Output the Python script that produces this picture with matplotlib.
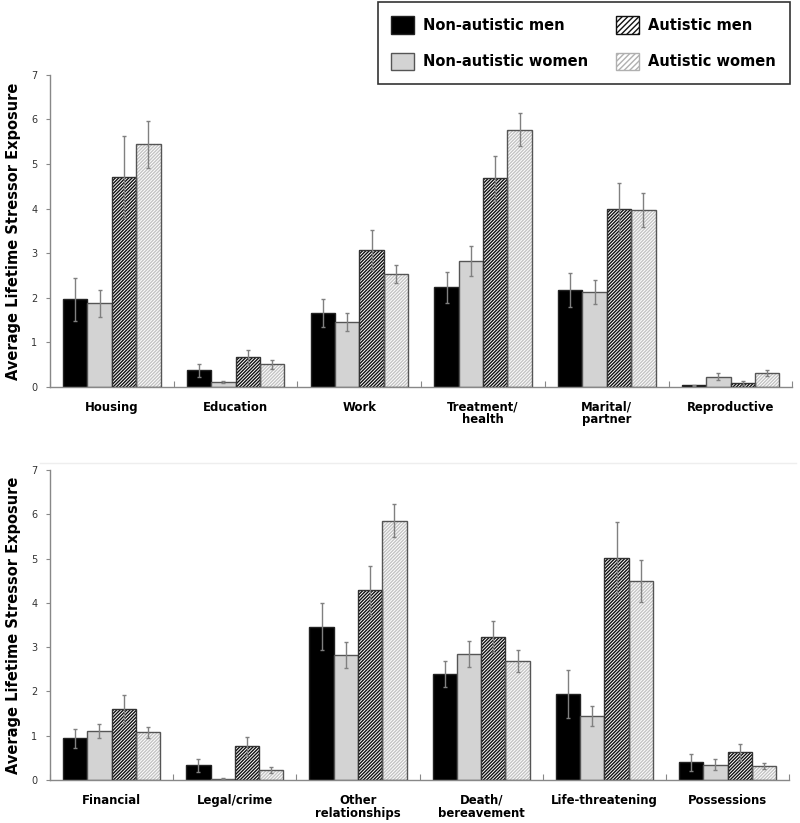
import matplotlib
matplotlib.use("Agg")
import matplotlib.pyplot as plt
import numpy as np
from matplotlib.patches import Patch
from matplotlib.lines import Line2D

plt.rcParams['font.family'] = ['DejaVu Sans']
plt.rcParams['hatch.linewidth'] = 1.0

groups = ["Non-autistic men", "Non-autistic women", "Autistic men", "Autistic women"]

cats_top = ["Housing", "Education", "Work", "Treatment/\nhealth", "Marital/\npartner", "Reproductive"]
nam_top = [1.96, 0.37, 1.66, 2.23, 2.17, 0.03]
naw_top = [1.87, 0.11, 1.45, 2.82, 2.12, 0.23]
am_top = [4.71, 0.66, 3.07, 4.68, 3.99, 0.09]
aw_top = [5.44, 0.51, 2.53, 5.77, 3.96, 0.31]
nam_top_err = [0.49, 0.14, 0.31, 0.35, 0.38, 0.01]
naw_top_err = [0.31, 0.03, 0.20, 0.33, 0.27, 0.07]
am_top_err = [0.92, 0.17, 0.44, 0.51, 0.58, 0.045]
aw_top_err = [0.52, 0.10, 0.20, 0.37, 0.38, 0.07]

cats_bot = ["Financial", "Legal/crime", "Other\nrelationships", "Death/\nbereavement", "Life-threatening", "Possessions"]
nam_bot = [0.94, 0.33, 3.46, 2.39, 1.94, 0.40]
naw_bot = [1.11, 0.03, 2.82, 2.84, 1.45, 0.35]
am_bot = [1.60, 0.76, 4.28, 3.24, 5.01, 0.63]
aw_bot = [1.08, 0.23, 5.86, 2.69, 4.49, 0.31]
nam_bot_err = [0.22, 0.14, 0.53, 0.30, 0.54, 0.19]
naw_bot_err = [0.15, 0.01, 0.30, 0.29, 0.23, 0.12]
am_bot_err = [0.31, 0.21, 0.55, 0.36, 0.82, 0.19]
aw_bot_err = [0.12, 0.06, 0.38, 0.24, 0.47, 0.07]

yticks = [0, 1, 2, 3, 4, 5, 6, 7]
ylabel = "Average Lifetime Stressor Exposure"

fig = plt.figure(figsize=(8.0, 8.23), dpi=100)
ax1 = fig.add_axes([0.0625, 0.530, 0.928, 0.379])
ax2 = fig.add_axes([0.0625, 0.0522, 0.924, 0.3767])

# faint chart-area border above lower panel
fig.add_artist(Line2D([0.05, 0.995], [1 - 463 / 823, 1 - 463 / 823], color="#eeeeee", lw=1.0))

bw = 0.197
edge = "#555555"
errc = "#808080"
HATCH = "//////////"


def draw(ax, cats, vals, errs):
    n = len(cats)
    x = np.arange(n)
    offs = [-1.5 * bw, -0.5 * bw, 0.5 * bw, 1.5 * bw]
    ax.bar(x + offs[0], vals[0], bw, color="black", edgecolor="#222222", linewidth=1.0, zorder=2)
    ax.bar(x + offs[1], vals[1], bw, color="#d3d3d3", edgecolor=edge, linewidth=1.0, zorder=2)
    ax.bar(x + offs[2], vals[2], bw, color="white", edgecolor="#111111", hatch=HATCH, linewidth=0, zorder=2)
    ax.bar(x + offs[2], vals[2], bw, color="none", edgecolor="#333333", linewidth=1.0, zorder=3)
    ax.bar(x + offs[3], vals[3], bw, color="white", edgecolor="#c4c4c4", hatch=HATCH, linewidth=0, zorder=2)
    ax.bar(x + offs[3], vals[3], bw, color="none", edgecolor=edge, linewidth=1.0, zorder=3)
    for k in range(4):
        ax.errorbar(x + offs[k], vals[k], yerr=errs[k], fmt="none", ecolor=errc,
                    elinewidth=1.0, capsize=1.5, capthick=1.0, zorder=4)
    ax.set_xlim(-0.5, n - 0.5)
    ax.set_ylim(0, 7)
    ax.set_yticks(yticks)
    ax.tick_params(axis="y", labelsize=7, labelcolor="#333333", length=3, width=0.8, pad=6, color="#888888")
    ax.set_xticks(x)
    ax.set_xticklabels(cats, fontsize=8.4, fontweight="bold", linespacing=0.98, va="top")
    ax.tick_params(axis="x", length=0, pad=10)
    ax.set_xticks(np.arange(n + 1) - 0.5, minor=True)
    ax.tick_params(axis="x", which="minor", length=4, width=0.8, color="#888888", direction="in")
    for s in ["top", "right"]:
        ax.spines[s].set_visible(False)
    for s in ["left", "bottom"]:
        ax.spines[s].set_color("#888888")
        ax.spines[s].set_linewidth(1.0)
    ax.set_ylabel(ylabel, fontsize=10.5, fontweight="bold")
    ax.yaxis.set_label_coords(-0.039, 0.5)


draw(ax1, cats_top, [nam_top, naw_top, am_top, aw_top], [nam_top_err, naw_top_err, am_top_err, aw_top_err])
draw(ax2, cats_bot, [nam_bot, naw_bot, am_bot, aw_bot], [nam_bot_err, naw_bot_err, am_bot_err, aw_bot_err])

handles = [
    Patch(facecolor="black", edgecolor="#222222", label=groups[0]),
    Patch(facecolor="#d3d3d3", edgecolor=edge, label=groups[1]),
    Patch(facecolor="white", edgecolor="#111111", hatch="//////", label=groups[2]),
    Patch(facecolor="white", edgecolor="#b0b0b0", hatch="//////", label=groups[3]),
]
leg = fig.legend(handles=handles, ncol=2, loc="upper right", bbox_to_anchor=(0.9875, 0.9975),
                 frameon=True, fancybox=False, edgecolor="black",
                 prop={"weight": "bold", "size": 10.5}, handlelength=1.58, handleheight=1.5,
                 columnspacing=1.9, labelspacing=1.3, borderpad=0.95, handletextpad=0.62,
                 borderaxespad=0)
leg.get_frame().set_linewidth(1.2)

fig.savefig("out.png", dpi=100)
